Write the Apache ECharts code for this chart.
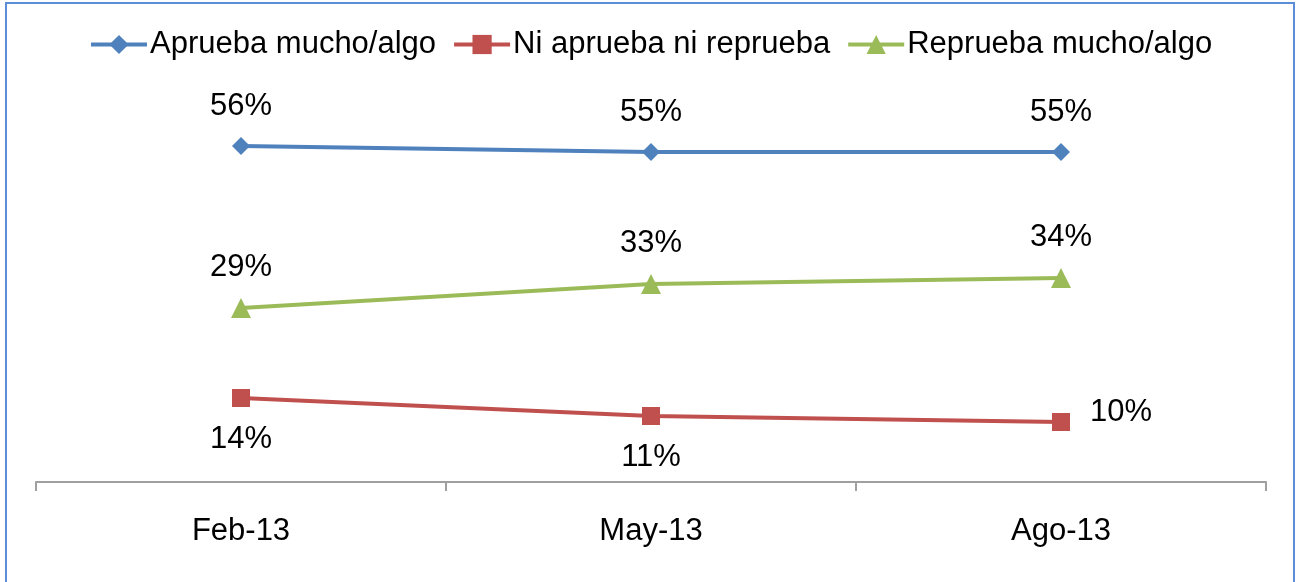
<!DOCTYPE html>
<html>
<head>
<meta charset="utf-8">
<script src="https://cdn.jsdelivr.net/npm/echarts@6/dist/echarts.min.js"></script>
<style>
  html, body { margin: 0; padding: 0; background: #fff; }
  #chart { width: 1299px; height: 582px; }
</style>
</head>
<body>
<div id="chart"></div>
<script>
// datos del gráfico
const categories = ['Feb-13', 'May-13', 'Ago-13']
const aprueba = [56, 55, 55]
const niNi = [14, 11, 10]
const reprueba = [29, 33, 34]
const seriesNames = ['Aprueba mucho/algo', 'Ni aprueba ni reprueba', 'Reprueba mucho/algo']

const chart = echarts.init(document.getElementById('chart'))

const labelFont = { fontFamily: 'Liberation Sans, Arial, sans-serif', fontSize: 31, color: '#000' }

const option = {
  animation: false,
  // marco exterior
  graphic: [
    {
      type: 'rect',
      shape: { x: 6, y: 3, width: 1288, height: 620 },
      style: { fill: 'none', stroke: '#5B8ED6', lineWidth: 2 },
      silent: true
    }
  ],
  legend: {
    left: 84,
    top: 24,
    itemWidth: 56,
    itemHeight: 24,
    itemGap: 16,
    lineStyle: { width: 4 },
    textStyle: { fontFamily: 'Liberation Sans, Arial, sans-serif', fontSize: 31, color: '#000', padding: [0, 0, 0, -2] },
    data: seriesNames
  },
  grid: { left: 36, right: 33, top: 122, bottom: 98 },
  xAxis: {
    type: 'category',
    data: categories,
    boundaryGap: true,
    axisLine: { lineStyle: { color: '#A0A0A0', width: 2 } },
    axisTick: { show: true, interval: 0, length: 9, lineStyle: { color: '#A0A0A0', width: 2 } },
    axisLabel: { ...labelFont, margin: 32 }
  },
  yAxis: {
    type: 'value',
    min: -0.33,
    max: 60,
    show: false,
    splitLine: { show: false }
  },
  series: [
    {
      name: seriesNames[0],
      type: 'line',
      data: aprueba,
      color: '#4F81BD',
      symbol: 'diamond',
      symbolSize: 18,
      lineStyle: { width: 4 },
      label: { show: true, position: 'top', distance: 15, formatter: '{c}%', ...labelFont }
    },
    {
      name: seriesNames[1],
      type: 'line',
      data: niNi.map((v, i) => i === 2
        ? { value: v, label: { position: 'right', distance: 20, offset: [0, -10] } }
        : v),
      color: '#C0504D',
      symbol: 'rect',
      symbolSize: 18,
      lineStyle: { width: 4 },
      label: { show: true, position: 'bottom', distance: 17, formatter: '{c}%', ...labelFont }
    },
    {
      name: seriesNames[2],
      type: 'line',
      data: reprueba,
      color: '#9BBB59',
      symbol: 'triangle',
      symbolSize: 20,
      lineStyle: { width: 4 },
      label: { show: true, position: 'top', distance: 15, formatter: '{c}%', ...labelFont }
    }
  ]
}

chart.setOption(option)
</script>
</body>
</html>
